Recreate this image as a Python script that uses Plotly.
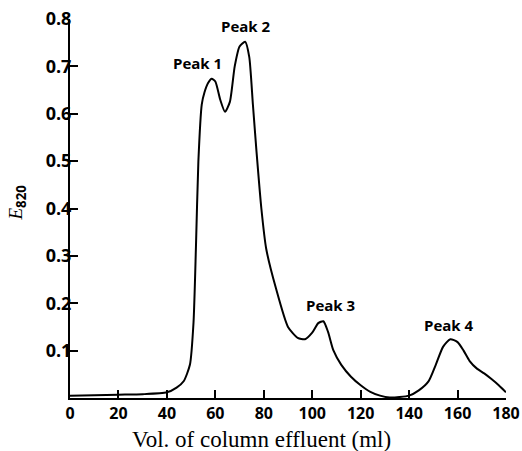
import plotly.graph_objects as go

volume_ml = [0, 10, 20, 30, 40, 44, 47, 49.5, 51, 52, 53, 54.4, 55.5, 57, 58.5, 60, 62, 64, 66, 68, 70, 72.3, 74, 75.5, 77, 79, 81, 85, 90, 94, 97, 100, 102.5, 104.6, 106.5, 108.7, 112, 116, 120, 124, 128, 132, 136, 140, 144, 148, 151, 154, 157, 160, 162.5, 165, 168, 171, 174, 177, 180]
e820 = [0.005, 0.006, 0.007, 0.008, 0.012, 0.022, 0.036, 0.07, 0.16, 0.32, 0.50, 0.62, 0.645, 0.665, 0.674, 0.668, 0.63, 0.604, 0.625, 0.70, 0.742, 0.752, 0.72, 0.62, 0.52, 0.40, 0.315, 0.232, 0.15, 0.127, 0.124, 0.138, 0.158, 0.162, 0.14, 0.101, 0.07, 0.045, 0.027, 0.013, 0.005, 0.001, 0.002, 0.005, 0.016, 0.035, 0.07, 0.108, 0.124, 0.118, 0.10, 0.078, 0.062, 0.052, 0.04, 0.027, 0.012]

peak_labels = ["Peak 1", "Peak 2", "Peak 3", "Peak 4"]
peak_x = [52.6, 72.5, 107.6, 156.5]
peak_y = [0.708, 0.785, 0.196, 0.154]

x_ticks = [0, 20, 40, 60, 80, 100, 120, 140, 160, 180]
y_ticks = [0.1, 0.2, 0.3, 0.4, 0.5, 0.6, 0.7, 0.8]

fig = go.Figure()
fig.add_trace(go.Scatter(x=volume_ml, y=e820, mode="lines",
                         line=dict(color="black", width=2, shape="spline", smoothing=0.6),
                         showlegend=False, hoverinfo="skip"))

for lab, px, py in zip(peak_labels, peak_x, peak_y):
    fig.add_annotation(x=px, y=py, text=lab, showarrow=False,
                       font=dict(family="Open Sans", size=15, color="black", weight="bold"))

# axis titles as annotations
fig.add_annotation(xref="paper", yref="paper", x=0.44, y=-0.11,
                   xanchor="center", yanchor="middle", showarrow=False,
                   text="Vol. of column effluent (ml)",
                   font=dict(family="Liberation Serif", size=23, color="black"))
fig.add_annotation(xref="paper", yref="paper", x=-0.12, y=0.515,
                   xanchor="center", yanchor="middle", showarrow=False, textangle=-90,
                   text="<i>E</i><sub><span style='font-family:Open Sans;font-weight:bold'>820</span></sub>",
                   font=dict(family="Liberation Serif", size=19, color="black"))

fig.update_layout(
    width=522, height=451, autosize=False,
    margin=dict(l=70, r=16, t=19, b=53, autoexpand=False),
    paper_bgcolor="white", plot_bgcolor="white",
    xaxis=dict(range=[0, 180], tickvals=x_ticks, ticktext=[str(v) for v in x_ticks],
               ticks="inside", ticklen=8, tickwidth=1.5, tickcolor="black",
               showline=True, linecolor="black", linewidth=2, showgrid=False, zeroline=False,
               ticklabeloverflow="allow", automargin=False,
               tickfont=dict(family="Open Sans", size=16, color="black", weight="bold")),
    yaxis=dict(range=[0, 0.8], tickvals=y_ticks, ticktext=[f"{v:.1f}" for v in y_ticks],
               ticks="inside", ticklen=8, tickwidth=1.5, tickcolor="black",
               showline=True, linecolor="black", linewidth=2, showgrid=False, zeroline=False,
               ticklabeloverflow="allow", automargin=False,
               tickfont=dict(family="Open Sans", size=18, color="black", weight="bold"),
               ticklabelstandoff=-7),
)

fig.write_html("out.html", config={"displayModeBar": False},
               post_script="document.body.style.margin='0px';")
